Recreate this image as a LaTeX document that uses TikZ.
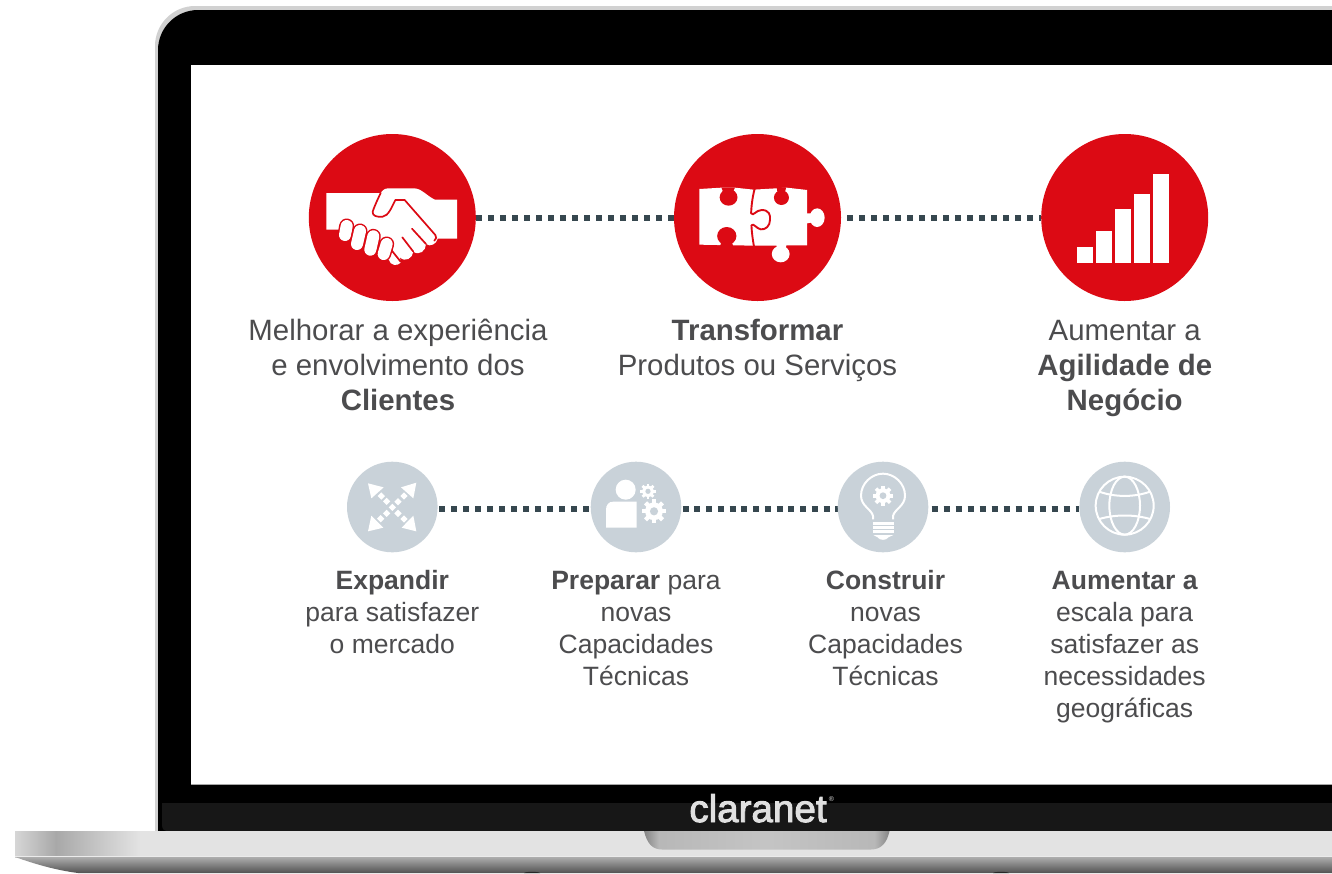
\documentclass[tikz,border=0pt]{standalone}
\usepackage{fontspec}
\setmainfont{Liberation Sans}
\newfontfamily\logofont{Liberation Sans}[FakeBold=2.5]
\pgfdeclarelayer{bg}\pgfdeclarelayer{links}
\pgfsetlayers{bg,links,main}
\definecolor{cred}{HTML}{DC0A14}
\definecolor{cgrey}{HTML}{C9D2D9}
\definecolor{cdot}{HTML}{36474F}
\definecolor{ctext}{HTML}{4C4C4E}
\pgfdeclarehorizontalshading{notchshade}{100bp}{color(0bp)=(black!48);color(25bp)=(black!48);color(28bp)=(black!28);color(50bp)=(black!23);color(72bp)=(black!28);color(75bp)=(black!48);color(100bp)=(black!48)}
\tikzset{
  bigdisc/.style={circle,fill=cred,minimum size=167pt,inner sep=0pt},
  smalldisc/.style={circle,fill=cgrey,minimum size=90.6pt,inner sep=0pt},
  linkdots/.style={draw=cdot,line width=6pt,dash pattern=on 6pt off 6pt,dash phase=#1},
  linkdots/.default=0pt,
  biglabel/.style={anchor=north,align=center,text=ctext,font=\fontsize{29.4}{35}\selectfont,inner sep=0pt},
  smalllabel/.style={anchor=north,align=center,text=ctext,font=\fontsize{26.5}{32}\selectfont,inner sep=0pt},
  iconline/.style={draw=white,line width=2pt,fill=none},
  zoomA/.style={shift={(290,120)},x=0.33333pt,y=-0.33333pt},
  zoomB/.style={shift={(660,120)},x=0.35714pt,y=-0.33333pt},
  zoomC/.style={shift={(330,450)},x=0.33333pt,y=-0.33333pt},
  zoomD/.style={shift={(820,450)},x=0.33333pt,y=-0.33333pt}
}
\newcommand{\gearicon}[4]{%
  \fill[white] (#1,#2) circle[radius=0.74*#3];
  \foreach \a in {0,45,...,315}
    \draw[white,line width={0.36*#3}] ([shift={(\a:0.6*#3)}]#1,#2) -- ([shift={(\a:#3)}]#1,#2);
  \fill[#4] (#1,#2) circle[radius=0.34*#3];
}
\begin{document}
\begin{tikzpicture}[x=1pt,y=-1pt]
\useasboundingbox (0,0) rectangle (1332,873);
\begin{pgfonlayer}{bg}
\fill[white] (0,0) rectangle (1332,873);
\begin{scope}
\clip (0,0) rectangle (1332,873);
% lid
\fill[black!18] (155,833) -- (155,46) .. controls (155,24) and (173,6) .. (195,6) -- (1332,6) -- (1332,833) -- cycle;
\fill[black] (158,831) -- (158,50) .. controls (158,28) and (176,10) .. (198,10) -- (1332,10) -- (1332,831) -- cycle;
\fill[white] (190.5,64.5) rectangle (1332,783.5);
\fill[black!35] (190.5,783.5) rectangle (1332,784.8);
\fill[black!91] (162,803) -- (1332,803) -- (1332,831) -- (168,831) .. controls (164,831) and (162,829) .. (162,825) -- cycle;
% base
\fill[black!11] (15,831) rectangle (1332,857);
\shade[left color=black!16,right color=black!34] (15,831) rectangle (56,857);
\shade[left color=black!34,right color=black!11] (56,831) rectangle (140,857);
\shade[top color=black!32,bottom color=black!68] (15,857) .. controls (35,864) and (55,870) .. (78,873) -- (1332,873) -- (1332,857) -- cycle;
\fill[black!8] (15,856) rectangle (1332,857.2);
\fill[black!85] (524,873) .. controls (526,871.4) and (538,871.4) .. (540,873) -- cycle;
\fill[black!85] (993,873) .. controls (995,871.4) and (1007,871.4) .. (1009,873) -- cycle;
% notch
\shade[shading=notchshade] (644,831) .. controls (647,843) and (652,849.5) .. (662,849.5) -- (871,849.5) .. controls (881,849.5) and (887,843) .. (889.5,831) -- cycle;
\end{scope}
\end{pgfonlayer}
% logo
\node[inner sep=0pt,anchor=base,text=black!12,font=\logofont\fontsize{38.6}{38}\selectfont] (logo) at (758,822) {claranet};
\node[inner sep=0pt,text=black!12,font=\fontsize{7}{7}\selectfont] (reg) at (831.5,799.5) {®};
% discs
\node[bigdisc] (hand) at (392.3,217.5) {};
\node[bigdisc] (puzzle) at (757.5,217.5) {};
\node[bigdisc] (bars) at (1124.7,217.5) {};
\node[smalldisc] (expand) at (392.3,507) {};
\node[smalldisc] (prep) at (636,507) {};
\node[smalldisc] (build) at (883,507) {};
\node[smalldisc] (globe) at (1124.7,507) {};
% connectors
\begin{pgfonlayer}{links}
\draw[linkdots=0pt] (hand) -- (puzzle);
\draw[linkdots=6pt] (puzzle) -- (bars);
\draw[linkdots=10.7pt] ([yshift=-1.7pt]expand.east) -- ([yshift=-1.7pt]prep.west);
\draw[draw=cdot,line width=6pt,dash pattern=on 6pt off 5.75pt,dash phase=10.75pt] ([yshift=-1.7pt]prep.east) -- ([yshift=-1.7pt]build.west);
\draw[linkdots=9pt] ([yshift=-1.7pt]build.east) -- ([yshift=-1.7pt]globe.west);
\end{pgfonlayer}
% handshake
\begin{scope}[zoomA]
\fill[white] (109,219) -- (272,219) .. controls (280,208) and (285,205) .. (298,205) -- (372,205) .. controls (395,205) and (410,228) .. (435,239) -- (501,239) -- (501,356) -- (443,356) .. controls (440,372) and (420,382) .. (408,372) .. controls (408,392) and (388,408) .. (370,395) .. controls (368,415) and (345,428) .. (330,412) -- (332,428) .. controls (322,440) and (300,436) .. (297,420) -- (200,360) -- (146,329) -- (109,329) -- cycle;
\draw[cred,line width=1.7pt,line cap=round,line join=round] (272,219) .. controls (262,240) and (252,262) .. (248,275) .. controls (246,288) and (262,292) .. (278,290) .. controls (295,288) and (305,262) .. (316,240) -- (344,240) -- (436,345) .. controls (442,352) and (438,356) .. (433,362);
\draw[cred,line width=1.7pt,line cap=round] (366,326) -- (408,372);
\draw[cred,line width=1.7pt,line cap=round] (337,352) -- (370,395);
\draw[cred,line width=1.7pt,line cap=round] (300,385) -- (332,425);
\foreach \ax/\ay/\bx/\by in {170/318/165/345, 210/333/201/372, 250/349/241/389, 290/372/281/402}{
  \draw[cred,line width=15pt,line cap=round] (\ax,\ay) -- (\bx,\by);
  \draw[white,line width=12pt,line cap=round] (\ax,\ay) -- (\bx,\by);
}
\end{scope}
% puzzle
\begin{scope}[zoomB]
\fill[white] (110,207) -- (172,203) -- (210,203) -- (262,209) -- (325,205) -- (355,203) -- (412,210) -- (412,376) -- (262,377) -- (110,374) -- cycle;
\fill[cred] (172,203) -- (210,203) -- (200,225) -- (180,225) -- cycle;
\fill[cred] (192,232) ellipse[x radius=25,y radius=25];
\fill[cred] (327,203) -- (353,203) -- (348,225) -- (330,225) -- cycle;
\fill[cred] (340,233) ellipse[x radius=21,y radius=22];
\fill[cred] (168,379) -- (205,379) -- (198,355) -- (175,355) -- cycle;
\fill[cred] (187,348) ellipse[x radius=27,y radius=27];
\fill[white] (412,280) -- (440,280) -- (440,305) -- (412,310) -- cycle;
\fill[white] (440,293) ellipse[x radius=21,y radius=28];
\fill[white] (325,370) -- (355,370) -- (350,395) -- (330,395) -- cycle;
\fill[white] (338,402) ellipse[x radius=25,y radius=25];
\draw[cred,line width=1.9pt,line cap=round,line join=round] (265,206) .. controls (258,235) and (256,260) .. (255,280) .. controls (262,290) and (268,270) .. (285,270) .. controls (305,270) and (310,285) .. (308,300) .. controls (308,318) and (295,330) .. (282,328) .. controls (270,326) and (262,308) .. (256,316) .. controls (257,340) and (260,360) .. (263,379);
\foreach \l/\r/\t in {1168/1212/381,1221/1266/333,1274/1319/267,1327/1372/222,1380/1425/162}
  \fill[white] (\l,429) rectangle (\r,\t);
\end{scope}
% expand
\begin{scope}[zoomC]
\fill[white] (114,100) -- (161,112) -- (124,145) -- cycle;
\fill[white] (259,98) -- (250,145) -- (213,112) -- cycle;
\fill[white] (114,244) -- (124,197) -- (160,233) -- cycle;
\fill[white] (259,244) -- (215,233) -- (250,197) -- cycle;
\foreach \dx/\dy in {154/138,170/154,187/172,204/155,222/138,170/190,152/206,204/190,222/207}
  \fill[white] (\dx-11,\dy) -- (\dx,\dy-11) -- (\dx+11,\dy) -- (\dx,\dy+11) -- cycle;
% person
\fill[white] (887,119) circle[x radius=30,y radius=30];
\fill[white] (828,233) -- (828,180) .. controls (828,165) and (835,155) .. (850,155) -- (920,155) -- (920,233) -- cycle;
\end{scope}
\gearicon{648}{491.3}{7.7}{cgrey}
\gearicon{654}{511.3}{12}{cgrey}
% bulb
\begin{scope}[zoomD]
\draw[iconline,line join=round] (159,208) -- (159,198) .. controls (155,178) and (123,168) .. (123,137) .. controls (123,100) and (155,71) .. (189,71) .. controls (223,71) and (255,100) .. (255,137) .. controls (255,168) and (223,178) .. (219,198) -- (219,208);
\foreach \yy in {220,233,245}
  \draw[white,line width=3pt] (158,\yy) -- (221,\yy);
\fill[white] (160,255) -- (220,255) -- (205,262) .. controls (200,272) and (178,272) .. (173,262) -- cycle;
\end{scope}
\gearicon{883}{495.7}{10}{cgrey}
% globe
\begin{scope}[zoomD]
\draw[iconline] (914,167) circle[radius=87];
\draw[iconline] (914,167) ellipse[x radius=46,y radius=87];
\draw[iconline] (838,125) .. controls (885,142) and (943,142) .. (990,125);
\draw[iconline] (838,207) .. controls (885,193) and (943,193) .. (990,207);
\end{scope}
% labels
\node[biglabel] (t1) at (398,319) {Melhorar a experiência\\e envolvimento dos\\\textbf{Clientes}};
\node[biglabel] (t2) at (757.5,319) {\textbf{Transformar}\\Produtos ou Serviços};
\node[biglabel] (t3) at (1124.7,320) {Aumentar a\\\textbf{Agilidade de}\\\textbf{Negócio}};
\node[smalllabel] (s1) at (392.3,570) {\textbf{Expandir}\\para satisfazer\\o mercado};
\node[smalllabel] (s2) at (636,571) {\textbf{Preparar} para\\novas\\Capacidades\\Técnicas};
\node[smalllabel] (s3) at (885.5,570) {\textbf{Construir}\\novas\\Capacidades\\Técnicas};
\node[smalllabel] (s4) at (1124.7,571) {\textbf{Aumentar a}\\escala para\\satisfazer as\\necessidades\\geográficas};
\end{tikzpicture}
\end{document}
